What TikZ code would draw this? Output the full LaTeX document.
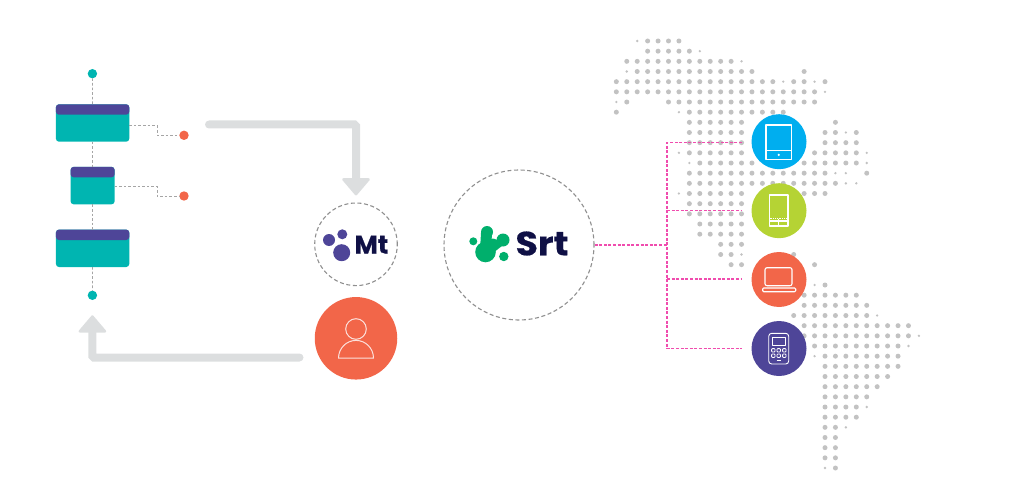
\documentclass[tikz,border=0pt]{standalone}
\usepackage{fontspec}
\newfontfamily\mtfont{Poppins}[FakeBold=0.6]
\newfontfamily\srtfont{Poppins}[FakeStretch=1.09,FakeBold=0.6]
\usetikzlibrary{arrows.meta,calc}
\definecolor{teal}{HTML}{00B5B1}
\definecolor{purp}{HTML}{4E4598}
\definecolor{coral}{HTML}{F26649}
\definecolor{sky}{HTML}{00AEEF}
\definecolor{lime}{HTML}{B5D334}
\definecolor{navy}{HTML}{0F1045}
\definecolor{blob}{HTML}{00AF6C}
\definecolor{lgray}{HTML}{DCDEDF}
\definecolor{dotc}{HTML}{C2C2C2}
\definecolor{pinkline}{HTML}{F04CAE}
\definecolor{dashc}{HTML}{8F8F8F}
\tikzset{
  x=1pt,y=-1pt,
  card/.style={rectangle,rounded corners=3pt,fill=teal,inner sep=0pt,outer sep=0pt},
  cardhead/.style={fill=purp,rounded corners=3pt},
  pt/.style={circle,inner sep=0pt,outer sep=0pt,minimum size=#1},
  linkdash/.style={draw=dashc!80,line width=0.8pt,dash pattern=on 2.6pt off 2pt},
  pinkdash/.style={draw=pinkline,line width=1.25pt,dash pattern=on 3pt off 1.6pt},
  ring/.style={circle,draw=dashc,line width=1.1pt,dash pattern=on 4pt off 2.6pt,inner sep=0pt},
  device/.style={circle,inner sep=0pt,minimum size=55pt,outer sep=0pt},
  icon/.style={draw=white,line width=1.1pt,line join=round},
  bigarrow/.style={draw=lgray,line width=8pt,line cap=round,rounded corners=1.5pt,
    -{Triangle[width=30pt,length=18pt,round,line width=2.5pt]}},
  logotext/.style={inner sep=0pt,outer sep=0pt,text=navy,anchor=base west},
}
\begin{document}
\begin{tikzpicture}
\useasboundingbox (0,0) rectangle (1024,481);
% dot map
\foreach \j/\a/\b in {0/3/6,1/3/7,2/1/11,3/2/13,3/18/18,4/0/15,4/17/18,4/20/20,5/0/19,6/1/1,6/5/19,7/0/0,7/7/16,
 8/7/12,8/21/21,9/7/12,9/20/21,9/23/23,10/7/12,10/20/23,11/7/12,11/19/23,12/8/13,12/18/23,13/7/20,13/24/24,14/7/21,
 15/7/12,15/18/20,16/7/12,17/7/12,18/8/12,19/8/12,20/10/12,21/10/11,21/17/17,22/11/12,22/19/19,24/20/20,
 25/18/23,26/18/24,27/17/24,28/18/28,29/18/28,30/19/27,31/20/27,32/20/27,33/20/26,34/20/25,35/20/24,36/20/23,37/20/23,
 38/20/21,39/20/21,40/20/21,41/20/21,42/21/21}{
  \foreach \i in {\a,...,\b}{\fill[dotc] ({616.33+10.433*\i},{41+10.167*\j}) circle (2.5pt);}
}
\foreach \i/\j in {8/1,12/2,1/3,16/4,19/4,20/5,0/6,6/7,6/11,7/12,24/11,24/12,21/13,22/13,22/14,23/14,6/15,2/0,22/9,
 12/21,19/24,25/27,28/30,29/29,19/31,24/36,22/38,20/42}{
  \fill[dotc] ({616.33+10.433*\i},{41+10.167*\j}) circle (1.3pt);
}
% cards
\node[card,minimum width=73.3pt,minimum height=37.4pt] (c1) at (92.6,123) {};
\node[card,minimum width=44pt,minimum height=37.4pt] (c2) at (92.6,185.6) {};
\node[card,minimum width=73.3pt,minimum height=37.4pt] (c3) at (92.6,248.3) {};
\fill[cardhead] (c1.north west) rectangle ($(c1.north east)+(0,10.4)$);
\fill[cardhead] (c2.north west) rectangle ($(c2.north east)+(0,10.4)$);
\fill[cardhead] (c3.north west) rectangle ($(c3.north east)+(0,10.4)$);
\node[pt=9.4pt,fill=teal] (top) at (92.4,73.7) {};
\node[pt=9.4pt,fill=teal] (bot) at (92.4,295.3) {};
\node[pt=9.4pt,fill=coral] (o1) at (184,135.3) {};
\node[pt=9.4pt,fill=coral] (o2) at (184,196) {};
\draw[linkdash] (top) -- (c1);
\draw[linkdash] (c1) -- (c2);
\draw[linkdash] (c2) -- (c3);
\draw[linkdash] (c3) -- (bot);
\coordinate (k1) at (c1.east |- 0,125.7);
\coordinate (k2) at (c2.east |- 0,186.3);
\draw[linkdash] (k1) -- (157,125.7) -- (157,135.3) -- (o1);
\draw[linkdash] (k2) -- (157,186.3) -- (157,196) -- (o2);
% rings and person
\node[ring,minimum size=82.6pt] (mt) at (356,244.3) {};
\node[ring,minimum size=150pt] (srt) at (519,245) {};
\node[circle,fill=coral,inner sep=0pt,minimum size=82.5pt] (person) at (356,338.3) {};
\draw[draw=white!80!coral,line width=1pt] (356,329) circle (10.3pt);
\draw[draw=white!80!coral,line width=1pt,line join=round] (338.5,358.2) arc[start angle=180,end angle=0,x radius=17.5pt,y radius=17.8pt] -- cycle;
% big arrows
\coordinate (a1) at (209,124.5);
\coordinate (a2) at (299.5,357.5);
\draw[bigarrow,shorten >=7pt] (a1) -| (mt.north);
\draw[bigarrow,shorten >=20pt] (a2) -| (bot.center);
% Mt logo
\fill[purp] (329,240) circle (6pt) (342.3,234.3) circle (5pt) (341.7,252.7) circle (8.5pt);
\node[logotext,font=\mtfont\bfseries\fontsize{25.5}{26}\selectfont] (mtlabel) at (354.5,253.5) {Mt};
% Srt logo
\fill[blob] (487,232) circle (6pt) (473.3,241.3) circle (4pt) (503,240) circle (6.5pt) (503.8,256.5) circle (4.7pt) (485.5,252) circle (10.3pt) (492.5,245) circle (6.5pt);
\draw[blob,line width=11pt] (486.5,233) -- (485.5,250);
\draw[blob,line width=8pt] (502,241) -- (490,250);
\node[logotext,font=\srtfont\bfseries\fontsize{33.5}{34}\selectfont] (srtlabel) at (515.5,255.3) {Srt};
% devices
\node[device,fill=sky] (d1) at (779,141.7) {};
\node[device,fill=lime] (d2) at (779,210.7) {};
\node[device,fill=coral] (d3) at (779,279.5) {};
\node[device,fill=purp] (d4) at (779,348.5) {};
% pink links
\coordinate (hub) at (667,245);
\coordinate (b1) at (667,142.6);
\coordinate (b4) at (667,348.5);
\coordinate (e1) at (742,142.6);
\coordinate (e2) at (742,210.7);
\coordinate (e3) at (742,279);
\coordinate (e4) at (742,348.5);
\draw[pinkdash] (srt.east) -- (hub);
\draw[pinkdash] (e1) -- (b1) -- (b4) -- (e4);
\draw[pinkdash] (667,210.7) -- (e2);
\draw[pinkdash] (667,279) -- (e3);
% tablet
\draw[icon] (766,125) rectangle (791.3,159.3);
\draw[icon] (766,150.7) -- (791.3,150.7);
\fill[white] (778.7,154.9) circle (1.2pt);
% phone
\draw[icon] (769.5,195) rectangle (788,226);
\draw[white,line width=1.1pt,dash pattern=on 1pt off 0.8pt] (769.5,218.5) -- (788,218.5);
\draw[icon] (769.5,221) -- (788,221);
\draw[white,line width=1pt] (778.7,219) -- (778.7,226);
% laptop
\draw[icon,rounded corners=2pt] (765,285.7) -- (765,267.7) -- (792,267.7) -- (792,285.7) -- cycle;
\draw[icon,rounded corners=1pt] (762.7,288) rectangle (795.7,291.7);
% calculator
\draw[icon,line width=0.9pt,rounded corners=3pt] (768.7,333.3) rectangle (788.7,364);
\draw[icon,line width=0.9pt] (772,337.3) rectangle (785.3,345);
\foreach \bx in {773.3,778.7,784.3}{\foreach \by in {350.3,355.7}{
  \draw[icon,line width=0.8pt,rounded corners=0.8pt] (\bx-1.7,\by-1.7) rectangle (\bx+1.7,\by+1.7);}}
\draw[white,line width=1pt] (776.7,360.4) -- (780.7,360.4);
\end{tikzpicture}
\end{document}
